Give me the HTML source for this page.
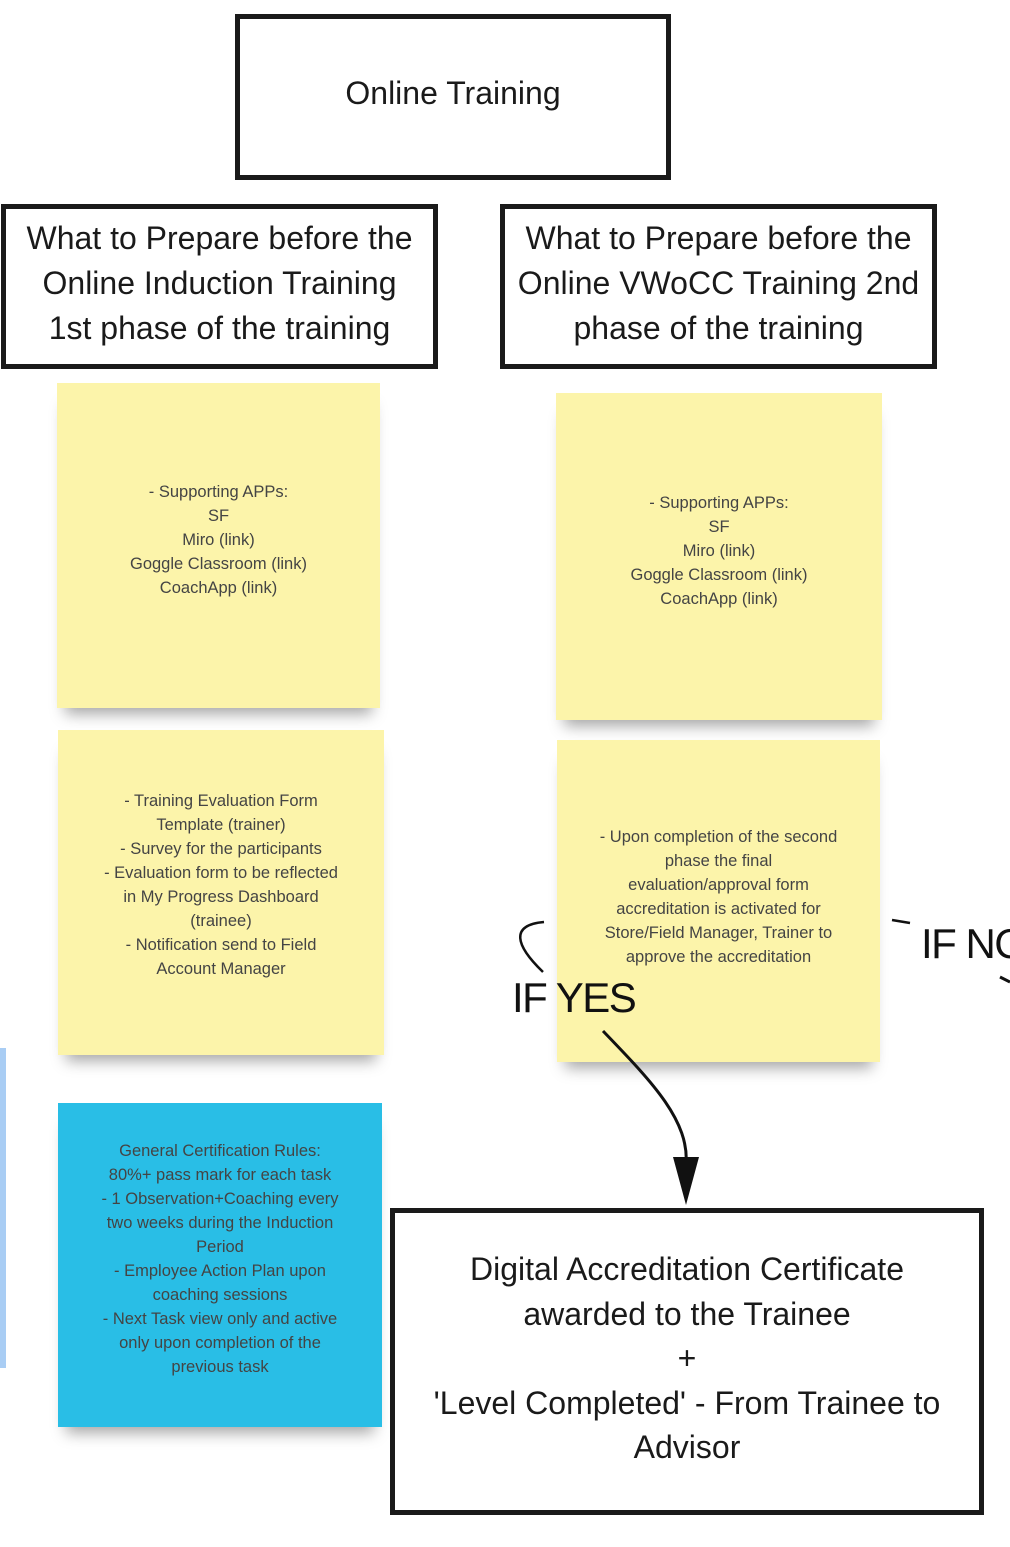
<!DOCTYPE html>
<html><head><meta charset="utf-8"><style>
body{margin:0;width:1010px;height:1547px;background:#fff;position:relative;overflow:hidden;font-family:"Liberation Sans",sans-serif}
.box{position:absolute;border:5px solid #1a1a1a;box-sizing:border-box;display:flex;align-items:center;justify-content:center;text-align:center;color:#1a1a1a;font-size:32px;line-height:45px;background:#fff;white-space:nowrap}
.st{position:absolute;background:#fcf4aa;box-shadow:0 14px 14px -8px rgba(0,0,0,.35);display:flex;align-items:center;justify-content:center;text-align:center;color:#444;font-size:16.5px;line-height:24px;box-sizing:border-box;white-space:nowrap}
.lbl{position:absolute;font-size:42px;color:#111;line-height:1;white-space:nowrap;letter-spacing:-1.5px}
</style></head><body>
<div style="position:absolute;left:0;top:1048px;width:6px;height:320px;background:#a9cdf4"></div>
<div class="box" style="left:235px;top:14px;width:436px;height:166px;padding-bottom:8px">Online Training</div>
<div class="box" style="left:1px;top:204px;width:437px;height:165px;padding-bottom:6px">What to Prepare before the<br>Online Induction Training<br>1st phase of the training</div>
<div class="box" style="left:500px;top:204px;width:437px;height:165px;padding-bottom:6px">What to Prepare before the<br>Online VWoCC Training 2nd<br>phase of the training</div>
<div class="st" style="left:57px;top:383px;width:323px;height:325px;padding-bottom:12px">- Supporting APPs:<br>SF<br>Miro (link)<br>Goggle Classroom (link)<br>CoachApp (link)</div>
<div class="st" style="left:58px;top:730px;width:326px;height:325px;padding-bottom:16px">- Training Evaluation Form<br>Template (trainer)<br>- Survey for the participants<br>- Evaluation form to be reflected<br>in My Progress Dashboard<br>(trainee)<br>- Notification send to Field<br>Account Manager</div>
<div class="st" style="left:58px;top:1103px;width:324px;height:324px;background:#29bee6;padding-bottom:12px">General Certification Rules:<br>80%+ pass mark for each task<br>- 1 Observation+Coaching every<br>two weeks during the Induction<br>Period<br>- Employee Action Plan upon<br>coaching sessions<br>- Next Task view only and active<br>only upon completion of the<br>previous task</div>
<div class="st" style="left:556px;top:393px;width:326px;height:327px;padding-bottom:12px">- Supporting APPs:<br>SF<br>Miro (link)<br>Goggle Classroom (link)<br>CoachApp (link)</div>
<div class="st" style="left:557px;top:740px;width:323px;height:322px;padding-bottom:8px">- Upon completion of the second<br>phase the final<br>evaluation/approval form<br>accreditation is activated for<br>Store/Field Manager, Trainer to<br>approve the accreditation</div>
<div class="box" style="left:390px;top:1208px;width:594px;height:307px;line-height:44.5px;padding-bottom:6px">Digital Accreditation Certificate<br>awarded to the Trainee<br>+<br>'Level Completed' - From Trainee to<br>Advisor</div>
<div class="lbl" style="left:512px;top:977px">IF YES</div>
<div class="lbl" style="left:921px;top:923px">IF NO</div>
<svg style="position:absolute;left:0;top:0" width="1010" height="1547">
<path d="M544 922 C510 925 515 945 543 972" fill="none" stroke="#111" stroke-width="2.5"/>
<path d="M603 1031 C650 1080 690 1120 686 1165" fill="none" stroke="#111" stroke-width="3"/>
<polygon points="673,1157 699,1157 686,1205" fill="#111"/>
<path d="M892 920 L910 923" stroke="#111" stroke-width="2.5"/>
<path d="M1000 977 L1010 982" stroke="#111" stroke-width="3"/>
</svg>
</body></html>
